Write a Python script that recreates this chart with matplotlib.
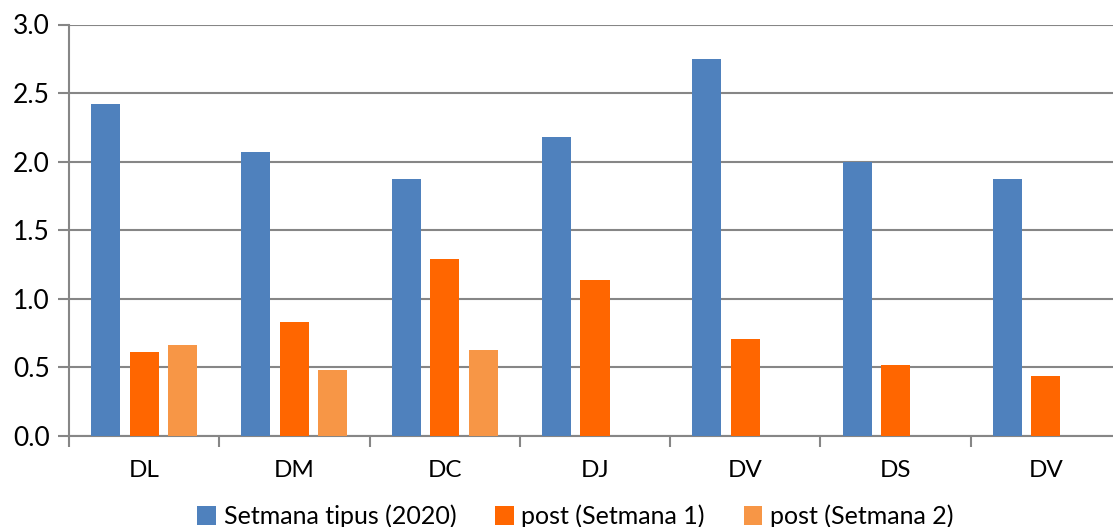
import numpy as np
import matplotlib.pyplot as plt

plt.rcParams['font.family'] = ['Lato', 'DejaVu Sans']

# Data
days = ['DL', 'DM', 'DC', 'DJ', 'DV', 'DS', 'DV']
setmana_tipus = [2.42, 2.07, 1.87, 2.18, 2.75, 2.00, 1.87]
post_setmana1 = [0.61, 0.83, 1.29, 1.14, 0.71, 0.52, 0.44]
post_setmana2 = [0.66, 0.48, 0.63, np.nan, np.nan, np.nan, np.nan]

series = [
    ('Setmana tipus (2020)', setmana_tipus, '#4F81BD'),
    ('post (Setmana 1)', post_setmana1, '#FF6600'),
    ('post (Setmana 2)', post_setmana2, '#F79646'),
]

fig = plt.figure(figsize=(11.13, 5.27), dpi=100)
ax = fig.add_axes([69 / 1113, 1 - 436 / 527, (1121 - 69) / 1113, (436 - 24.5) / 527])

x = np.arange(len(days))
width = 0.193
offsets = [-0.256, 0, 0.256]
grid_col = '#868686'

for (name, vals, col), off in zip(series, offsets):
    ax.bar(x + off, vals, width, color=col, label=name, zorder=3)

ax.set_xlim(-0.5, len(days) - 0.5)
ax.set_ylim(0, 3.0)
ax.set_yticks(np.arange(0, 3.01, 0.5))
ax.set_yticklabels([f'{v:.1f}' for v in np.arange(0, 3.01, 0.5)])
ax.yaxis.grid(True, color=grid_col, linewidth=1.5, zorder=0)

# category labels at centers, tick marks at boundaries
ax.set_xticks(x)
ax.set_xticklabels(days)
ax.set_xticks(np.arange(-0.5, len(days), 1), minor=True)
ax.tick_params(axis='x', which='major', length=0, pad=17, labelsize=17.5)
ax.tick_params(axis='x', which='minor', length=8, width=1.5, color=grid_col, direction='out')
ax.tick_params(axis='y', length=8, width=1.5, color=grid_col, pad=6, labelsize=19)

for s in ['top', 'right']:
    ax.spines[s].set_visible(False)
for s in ['left', 'bottom']:
    ax.spines[s].set_color(grid_col)
    ax.spines[s].set_linewidth(1.5)

leg = fig.legend(loc='lower center', bbox_to_anchor=(0.517, -0.045), ncol=3, frameon=False,
                 fontsize=18, handlelength=0.75, handleheight=0.75, handletextpad=0.3,
                 columnspacing=1.55)

plt.savefig('out.png', dpi=100)
